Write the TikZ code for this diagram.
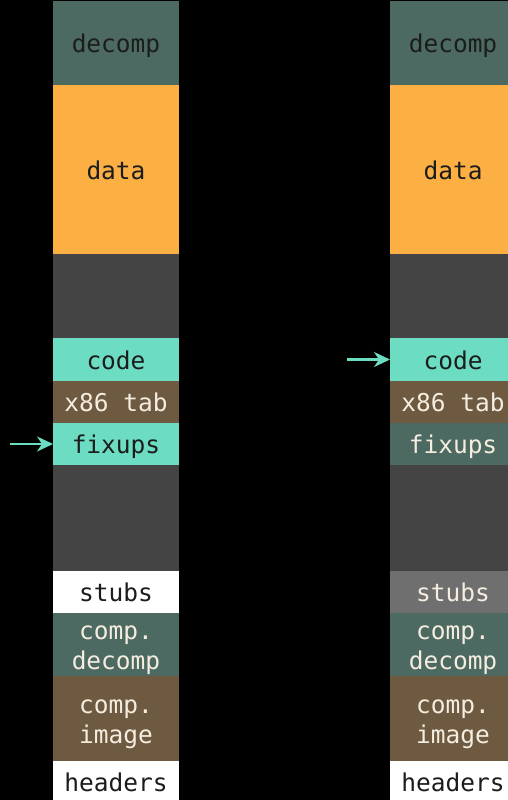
\documentclass[tikz,border=0pt]{standalone}
\usepackage{fontspec}
\setmonofont{DejaVu Sans Mono}
\usetikzlibrary{arrows.meta}
\definecolor{tealdark}{HTML}{4D6A62}
\definecolor{memorange}{HTML}{FCAF43}
\definecolor{gapgray}{HTML}{444444}
\definecolor{mint}{HTML}{6CDDC2}
\definecolor{memBrown}{HTML}{6E5A40}
\definecolor{stubgray}{HTML}{6F6F6F}
\definecolor{inkdark}{HTML}{1A1D1C}
\definecolor{inklight}{HTML}{F4EDE0}
\tikzset{
  cell/.style={anchor=north west, minimum width=126pt, inner sep=0pt, outer sep=0pt,
    align=center, font=\ttfamily\fontsize{24.5}{30}\selectfont},
  blk/.style={cell, text height=19pt, text depth=0pt},
  ml/.style={cell, yshift=-6pt},
  dk/.style={text=inkdark},
  lt/.style={text=inklight},
  ptr/.style={draw=mint, line width=2.2pt, -{Stealth[length=16pt,width=15pt,inset=5pt]}},
}
\begin{document}
\begin{tikzpicture}[x=1pt,y=-1pt]
\fill[black] (0,0) rectangle (508,800);
\useasboundingbox (0,0) rectangle (508,800);
\clip (0,0) rectangle (508,800);
% left column: before relocation
\node[blk,dk,fill=tealdark,minimum height=84pt]  (ldecomp) at (53,1)   {decomp};
\node[blk,dk,fill=memorange,minimum height=169pt] (ldata) at (53,85)  {data};
\node[blk,fill=gapgray,minimum height=84pt]      (lgap1) at (53,254)  {};
\node[blk,dk,fill=mint,minimum height=43pt]      (lcode) at (53,338)  {code};
\node[blk,lt,fill=memBrown,minimum height=42pt]  (ltab) at (53,381)   {x86 tab};
\node[blk,dk,fill=mint,minimum height=42pt]      (lfix) at (53,423)   {fixups};
\node[blk,fill=gapgray,minimum height=106pt]     (lgap2) at (53,465)  {};
\node[blk,dk,fill=white,minimum height=42pt]     (lstubs) at (53,571) {stubs};
\fill[tealdark] (53,613) rectangle (179,676);
\node[ml,lt,minimum height=63pt]  (lcdec) at (53,613)  {comp.\\decomp};
\fill[memBrown] (53,676) rectangle (179,761);
\node[ml,lt,minimum height=85pt]  (lcimg) at (53,676)  {comp.\\image};
\node[blk,dk,fill=white,minimum height=42pt]     (lhead) at (53,761)  {headers};
% right column: after relocation
\node[blk,dk,fill=tealdark,minimum height=84pt]  (rdecomp) at (390,1)   {decomp};
\node[blk,dk,fill=memorange,minimum height=169pt] (rdata) at (390,85)  {data};
\node[blk,fill=gapgray,minimum height=84pt]      (rgap1) at (390,254)  {};
\node[blk,dk,fill=mint,minimum height=43pt]      (rcode) at (390,338)  {code};
\node[blk,lt,fill=memBrown,minimum height=42pt]  (rtab) at (390,381)   {x86 tab};
\node[blk,lt,fill=tealdark,minimum height=42pt]  (rfix) at (390,423)   {fixups};
\node[blk,fill=gapgray,minimum height=106pt]     (rgap2) at (390,465)  {};
\node[blk,lt,fill=stubgray,minimum height=42pt]  (rstubs) at (390,571) {stubs};
\fill[tealdark] (390,613) rectangle (516,676);
\node[ml,lt,minimum height=63pt]  (rcdec) at (390,613)  {comp.\\decomp};
\fill[memBrown] (390,676) rectangle (516,761);
\node[ml,lt,minimum height=85pt]  (rcimg) at (390,676)  {comp.\\image};
\node[blk,dk,fill=white,minimum height=42pt]     (rhead) at (390,761)  {headers};
% execution pointers
\coordinate (lsrc) at (10,444);
\coordinate (rsrc) at (347,359.5);
\draw[ptr] (lsrc) -- (lfix.west);
\draw[ptr] (rsrc) -- (rcode.west);
\end{tikzpicture}
\end{document}
